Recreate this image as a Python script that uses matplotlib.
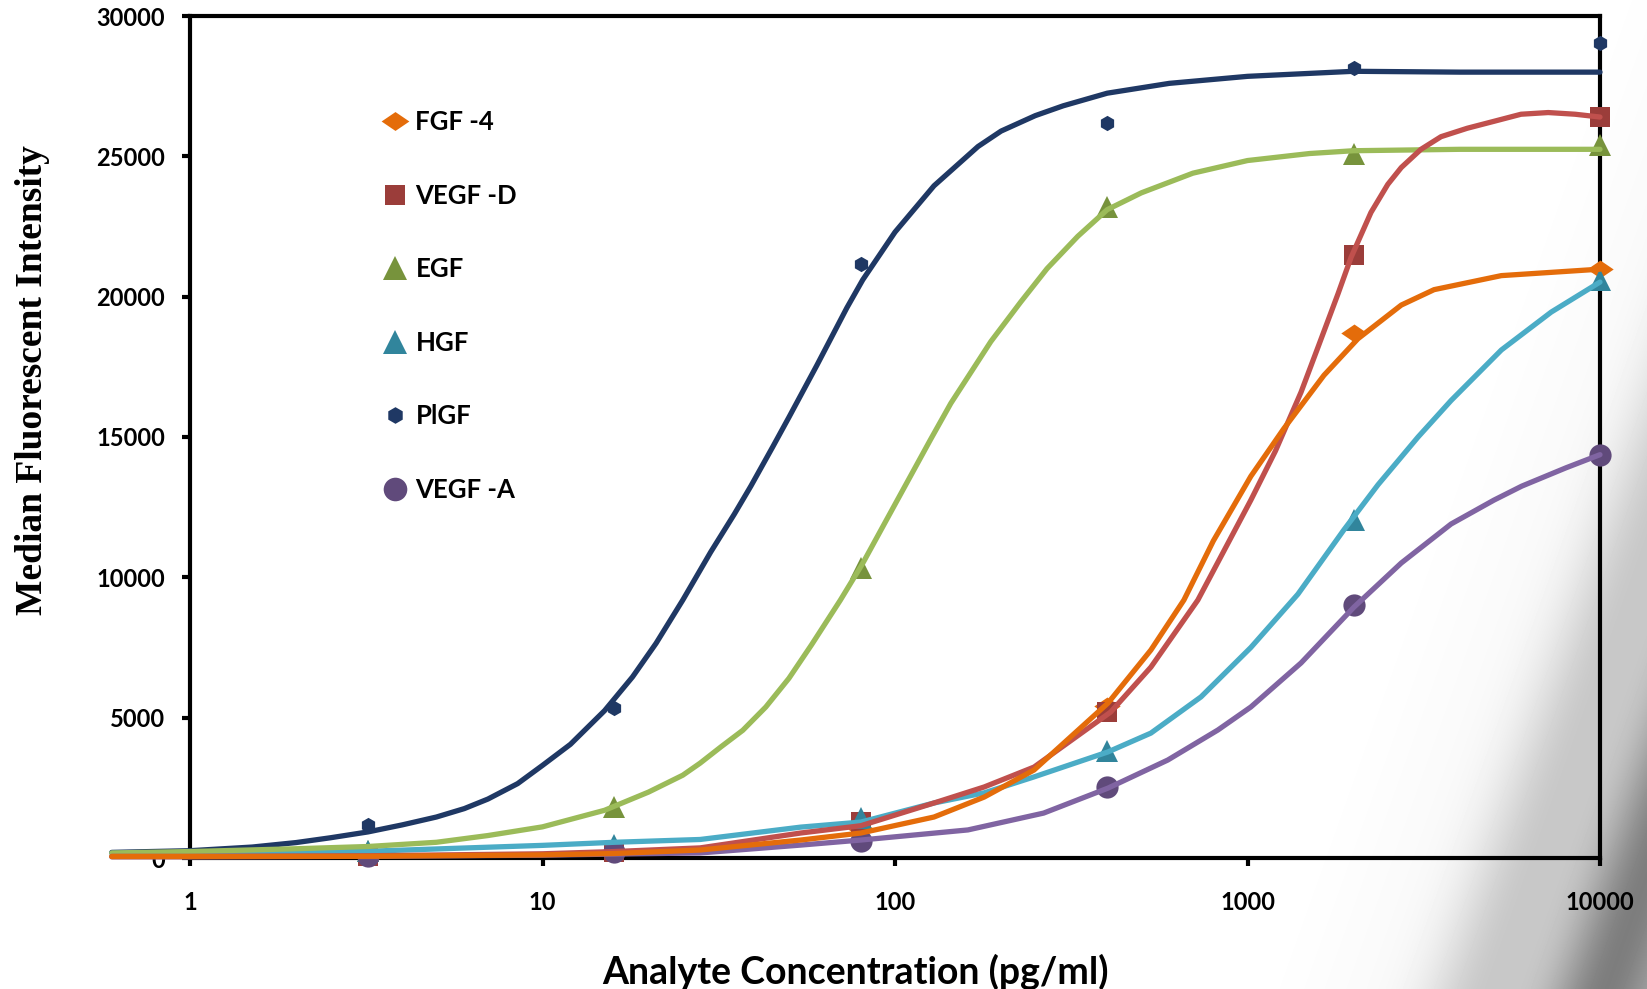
import numpy as np
import matplotlib
matplotlib.use('Agg')
import matplotlib.pyplot as plt
from matplotlib.lines import Line2D

# standard points (pg/ml) and measured MFI
conc = [3.2, 16, 80, 400, 2000, 10000]
fgf4_pts = [60, 180, 1050, 5420, 18700, 20990]
vegfd_pts = [80, 230, 1270, 5200, 21470, 26410]
egf_pts = [250, 1800, 10330, 23200, 25100, 25400]
hgf_pts = [250, 450, 1420, 3820, 12050, 20580]
plgf_pts = [1160, 5350, 21170, 26190, 28130, 29030]
vegfa_pts = [60, 220, 600, 2540, 9020, 14370]

# fitted curves
plgf_x = [0.6, 1, 1.5, 2, 2.5, 3.2, 4, 5, 6, 7, 8.5, 10, 12, 15, 18, 21, 25, 30, 35, 39, 45, 50, 60, 73, 81,
          100, 129, 172, 200, 250, 300, 400, 600, 1000, 2000, 4000, 10000]
plgf_y = [200, 260, 390, 550, 720, 930, 1180, 1460, 1760, 2100, 2650, 3300, 4050, 5250, 6450, 7650, 9190, 10900,
          12250, 13250, 14650, 15700, 17550, 19600, 20600, 22300, 23950, 25350, 25900, 26450, 26800, 27250, 27600,
          27850, 28030, 28000, 28000]

egf_x = [0.6, 1, 2, 3.2, 5, 7, 10, 15, 20, 25, 28, 32, 37, 43, 50, 58, 70, 81, 100, 126, 144, 187, 227, 270,
         330, 400, 500, 700, 1000, 1500, 2000, 4000, 10000]
egf_y = [180, 230, 330, 410, 560, 800, 1110, 1700, 2350, 2950, 3380, 3950, 4550, 5380, 6400, 7600, 9190, 10500,
         12600, 14900, 16200, 18400, 19800, 21000, 22150, 23100, 23700, 24400, 24850, 25100, 25200, 25250, 25250]

vegfd_x = [0.6, 1, 3.2, 10, 16, 28, 54, 80, 129, 179, 248, 409, 532, 723, 1022, 1200, 1419, 1585, 1806, 1967,
           2240, 2500, 2730, 3105, 3540, 4200, 5010, 5970, 7130, 8500, 10000]
vegfd_y = [60, 60, 80, 150, 230, 360, 890, 1150, 1960, 2530, 3240, 5200, 6800, 9190, 12750, 14500, 16600, 18200,
           20100, 21400, 23000, 24000, 24600, 25250, 25700, 26000, 26250, 26500, 26560, 26500, 26400]

fgf4_x = [0.6, 1, 3.2, 10, 16, 28, 54, 80, 129, 179, 248, 402, 532, 660, 800, 1022, 1268, 1648, 2057, 2730, 3383,
          5250, 10000]
fgf4_y = [50, 50, 60, 110, 160, 285, 640, 890, 1460, 2170, 3135, 5520, 7410, 9190, 11300, 13600, 15300, 17200,
          18500, 19700, 20250, 20750, 20980]

hgf_x = [0.6, 1, 3.2, 10, 16, 28, 54, 80, 129, 179, 248, 402, 532, 738, 1022, 1390, 1879, 2346, 3047, 3780, 5250,
         7270, 10000]
hgf_y = [170, 190, 240, 450, 560, 660, 1100, 1280, 1960, 2320, 2890, 3780, 4450, 5740, 7500, 9400, 11700, 13300,
         15000, 16300, 18100, 19450, 20520]

vegfa_x = [0.6, 1, 3.2, 10, 16, 28, 54, 80, 161, 264, 402, 594, 824, 1022, 1419, 2005, 2730, 3780, 5000, 6000,
           8000, 10000]
vegfa_y = [40, 40, 60, 100, 140, 180, 460, 640, 1000, 1600, 2490, 3490, 4560, 5380, 6950, 8940, 10510, 11900,
           12750, 13250, 13900, 14370]

labels = ['FGF -4', 'VEGF -D', 'EGF', 'HGF', 'PlGF', 'VEGF -A']

W, H = 1647, 989
fig = plt.figure(figsize=(W / 100, H / 100), dpi=100)

# blurred grey photo fragment in the lower right corner
bg = fig.add_axes([0, 0, 1, 1], zorder=0)
yy, xx = np.mgrid[0:H, 0:W]
d = ((xx - 1418) * 642 + (yy - 989) * 229) / 681.6
shade = 1 / (1 + np.exp(-(d - 70) / 42))
shade = shade * (0.8 + 0.2 * np.sin(d / 22.0))
img = 1 - 0.55 * shade
bg.imshow(img, cmap='gray', vmin=0, vmax=1, extent=[0, W, H, 0], aspect='auto')
bg.set_xlim(0, W)
bg.set_ylim(H, 0)
bg.axis('off')

ax = fig.add_axes([190 / W, 1 - 858 / H, 1410 / W, 842 / H], zorder=1)
ax.set_facecolor('none')

wide_diamond = [(-1, 0), (0, 0.68), (1, 0), (0, -0.68), (-1, 0)]
series = [
    (fgf4_x, fgf4_y, fgf4_pts, '#E46C0A', '#E46C0A', wide_diamond, 19),
    (vegfd_x, vegfd_y, vegfd_pts, '#C0504D', '#9B3D3A', 's', 14),
    (egf_x, egf_y, egf_pts, '#9BBB59', '#77933C', '^', 16),
    (hgf_x, hgf_y, hgf_pts, '#4BACC6', '#31859C', '^', 16),
    (plgf_x, plgf_y, plgf_pts, '#1F3864', '#1F3864', 'h', 11),
    (vegfa_x, vegfa_y, vegfa_pts, '#8064A2', '#604A7B', 'o', 16),
]

handles = []
for (cx, cy, pts, lc, mc, mk, ms) in series:
    ax.plot(conc, pts, linestyle='none', marker=mk, markersize=ms,
            color=mc, markeredgewidth=0, zorder=3, clip_on=False)
    handles.append(Line2D([], [], linestyle='none', marker=mk, markersize=ms + 1,
                          color=mc, markeredgewidth=0))
for (cx, cy, pts, lc, mc, mk, ms) in reversed(series):
    ax.plot(cx, cy, color=lc, linewidth=3.8, zorder=4, clip_on=False,
            solid_capstyle='round', solid_joinstyle='round')

ax.set_xscale('log')
ax.set_xlim(1, 10000)
ax.set_ylim(0, 30000)
ax.set_xticks([1, 10, 100, 1000, 10000])
ax.set_xticklabels(['1', '10', '100', '1000', '10000'])
ax.xaxis.set_minor_locator(matplotlib.ticker.NullLocator())
ax.set_yticks(range(0, 30001, 5000))
ax.set_yticklabels([str(v) for v in range(0, 30001, 5000)])

for s in ax.spines.values():
    s.set_linewidth(3)
ax.tick_params(axis='both', width=3, length=6, direction='out')
ax.tick_params(axis='x', pad=18)
ax.tick_params(axis='y', pad=12)
for t in ax.get_xticklabels() + ax.get_yticklabels():
    t.set_fontfamily('Lato')
    t.set_fontweight('bold')
    t.set_fontsize(17)

ax.set_xlabel('Analyte Concentration (pg/ml)', fontfamily='Lato',
              fontweight='bold', fontsize=27)
ax.xaxis.set_label_coords(0.472, -0.114)
ax.set_ylabel('Median Fluorescent Intensity', fontfamily='Liberation Serif',
              fontweight='bold', fontsize=27)
ax.yaxis.set_label_coords(-0.0995, 0.568)

leg = ax.legend(handles, labels, loc='upper left',
                bbox_to_anchor=(382 / W, 1 - 110 / H), bbox_transform=fig.transFigure,
                frameon=False, handlelength=1.0, handletextpad=0.3,
                labelspacing=1.93, borderpad=0, borderaxespad=0,
                prop={'family': 'Lato', 'weight': 'bold', 'size': 18.5})

fig.savefig('out.png', dpi=100)
